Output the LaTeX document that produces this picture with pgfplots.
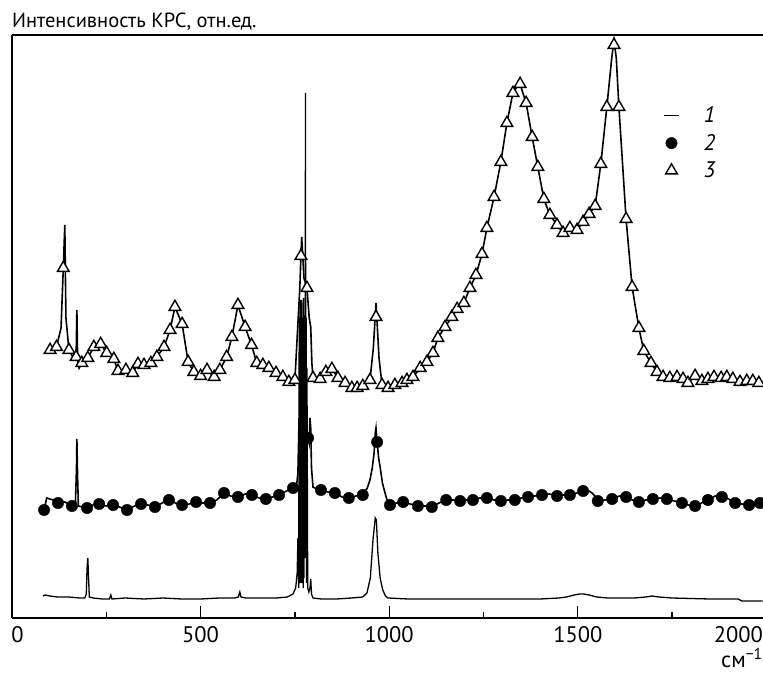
\documentclass[border=0pt]{standalone}
\usepackage{fontspec}
\setmainfont{PT Sans}
\usepackage{pgfplots}
\pgfplotsset{compat=1.18}
\newcommand{\lblfont}{\fontsize{22.5}{26}\selectfont}
\newcommand{\ttlfont}{\fontsize{20.5}{25}\selectfont}
\begin{document}
\begin{tikzpicture}
\begin{axis}[
  at={(0,0)}, anchor=south west,
  scale only axis, width=751pt, height=583pt,
  xmin=0, xmax=1991, ymin=0, ymax=583,
  axis x line*=box, axis y line*=left,
  axis line style={line width=1.3pt, -},
  xtick={0,500,1000,1500}, xticklabels={\mbox{\hspace*{11pt}0},\mbox{500},\mbox{1000},\mbox{1500}},
  minor xtick={250,750,1250,1750},
  xtick pos=left, ytick=\empty,
  tick align=inside,
  major tick length=12pt, minor tick length=6pt,
  every tick/.style={black, line width=1.3pt},
  xticklabel style={font=\lblfont, anchor=base, inner sep=0pt, yshift=-24pt},
  clip=false,
  legend cell align=left,
  legend style={draw=none, fill=none, at={(0.863,0.884)}, anchor=north west,
    font=\lblfont\itshape, row sep=6pt,
    /tikz/every odd column/.append style={column sep=22pt}},
]
% curve 1
\addplot[black, line width=1.3pt, no marks,
  legend image code/.code={\draw[black, line width=1.3pt] (1pt,0pt) -- (16pt,0pt);}] table {
82 22
88 23
100 22
120 21
150 21
180 20
193 20
197 24
199 50
201 60
203 40
205 21
215 20
240 19
258 19
262 23
265 19
300 20
350 19
400 20
450 19
500 19
550 20
590 20
600 21
604 26
607 21
620 20
660 20
700 20
730 21
745 24
752 30
756 45
758 80
760 30
761 200
762 40
763 300
764 35
765 280
766 40
767 310
768 35
769 300
770 40
771 290
772 30
773 320
774 40
776 300
777 60
778 525
779 60
780 300
781 35
782 250
784 30
787 26
790 30
792 39
794 24
798 20
820 19
860 19
900 20
930 21
941 25
950 40
957 78
963 100
966 98
970 65
976 40
983 28
990 22
997 20
1050 19
1100 19
1200 19
1300 19
1400 19
1450 20
1470 21
1490 23
1505 24
1515 24
1530 23
1550 21
1580 20
1650 20
1680 21
1697 22
1715 21
1750 20
1850 19
1925 19
1935 17
1990 17
};
\addlegendentry{1}
% curve 2 line
\addplot[black, line width=1.6pt, no marks, forget plot] table {
85 108
92 120
109 118
122 115
140 116
159 112
168 113
171 150
172 179
174 140
176 112
199 110
215 113
231 114
250 112
268 113
285 111
305 108
325 112
342 114
360 113
379 111
398 115
416 118
433 115
451 113
470 114
488 116
505 115
525 115
543 118
562 125
580 122
599 121
618 124
636 123
655 120
673 119
690 121
708 123
728 127
745 130
754 131
758 145
761 200
762 300
763 180
764 318
765 200
766 305
767 220
768 318
769 190
770 300
771 170
772 290
774 250
777 200
780 185
785 180
788 175
790 200
792 190
794 150
798 131
808 129
819 128
838 126
856 125
875 121
893 120
912 122
930 123
942 130
949 138
955 150
960 165
963 185
965 190
968 176
972 160
976 151
982 135
989 125
995 117
1002 113
1020 115
1037 116
1056 114
1076 112
1095 112
1113 111
1132 115
1151 118
1170 118
1188 117
1205 118
1222 118
1240 120
1259 120
1278 118
1296 117
1315 118
1333 118
1350 120
1368 121
1386 122
1405 123
1425 124
1445 122
1462 123
1479 123
1497 125
1514 127
1525 128
1538 125
1545 122
1553 117
1572 118
1591 119
1610 122
1628 121
1645 118
1662 116
1680 118
1699 119
1718 120
1736 119
1756 117
1776 115
1793 113
1811 112
1828 115
1845 118
1864 122
1882 121
1900 119
1917 115
1935 114
1954 113
1970 114
1983 115
};
% curve 2 marks
\addplot[only marks, mark=*, mark size=5.7pt, black] table {
85 108
122 115
159 112
199 110
231 114
268 113
305 108
342 114
379 111
416 118
451 113
488 116
525 115
562 125
599 121
636 123
673 119
708 123
745 130
785 180
819 128
856 125
893 120
930 123
968 176
1002 113
1037 116
1076 112
1113 111
1151 118
1188 117
1222 118
1259 120
1296 117
1333 118
1368 121
1405 123
1445 122
1479 123
1514 127
1553 117
1591 119
1628 121
1662 116
1699 119
1736 119
1776 115
1811 112
1845 118
1882 121
1917 115
1954 113
1983 115
};
\addlegendentry{2}
% curve 3 line
\addplot[black, line width=1.6pt, no marks, forget plot] table {
101 268
118 271
130 290
136 350
140 393
143 300
151 268
160 262
170 261
172 308
174 258
178 250
185 255
201 260
217 271
235 274
251 265
270 259
281 247
302 248
320 245
334 254
350 253
368 255
384 261
403 271
419 288
432 311
451 294
467 256
482 246
500 242
517 248
536 241
551 248
569 261
583 281
599 313
618 291
635 273
649 255
665 253
681 250
700 245
718 241
734 236
750 238
763 330
766 362
768 381
774 340
782 330
788 300
792 291
795 255
798 240
817 239
832 246
848 249
864 240
883 235
901 230
915 230
930 232
949 238
958 270
965 315
968 295
973 260
981 233
997 230
1015 233
1034 235
1047 238
1063 241
1082 250
1100 256
1116 265
1129 280
1148 291
1166 301
1180 309
1198 315
1214 330
1230 343
1246 364
1259 390
1278 421
1296 456
1312 495
1328 525
1340 532
1347 534
1352 528
1363 515
1379 481
1394 451
1410 419
1426 403
1445 393
1461 385
1479 390
1498 388
1514 396
1530 404
1546 412
1561 454
1577 511
1590 560
1596 578
1602 560
1609 511
1628 399
1644 331
1662 290
1675 267
1694 255
1710 246
1726 241
1744 240
1763 241
1779 239
1792 235
1811 242
1829 237
1845 239
1861 241
1880 240
1895 241
1911 239
1930 236
1948 237
1964 237
1980 235
};
% curve 3 marks
\addplot[only marks, mark=triangle*, mark size=6.7pt,
  mark options={fill=white, draw=black, line width=1.4pt}] table {
101 268
118 271
136 350
151 268
170 261
185 255
201 260
217 271
235 274
251 265
270 259
281 247
302 248
320 245
334 254
350 253
368 255
384 261
403 271
419 288
432 311
451 294
467 256
482 246
500 242
517 248
536 241
551 248
569 261
583 281
599 313
618 291
635 273
649 255
665 253
681 250
700 245
718 241
734 236
750 238
766 362
782 330
798 240
817 239
832 246
848 249
864 240
883 235
901 230
915 230
930 232
949 238
965 301
981 233
997 230
1015 233
1034 235
1047 238
1063 241
1082 250
1100 256
1116 265
1129 280
1148 291
1166 301
1180 309
1198 315
1214 330
1230 343
1246 364
1259 390
1278 421
1296 456
1312 495
1328 525
1347 534
1363 515
1379 481
1394 451
1410 419
1426 403
1445 393
1461 385
1479 390
1498 388
1514 396
1530 404
1546 412
1561 454
1577 511
1596 573
1609 511
1628 399
1644 331
1662 290
1675 267
1694 255
1710 246
1726 241
1744 240
1763 241
1779 239
1792 235
1811 242
1829 237
1845 239
1861 241
1880 240
1895 241
1911 239
1930 236
1948 237
1964 237
1980 235
};
\addlegendentry{3}
\node[anchor=base west, inner sep=0pt, font=\ttlfont, yshift=7pt] at (rel axis cs:0,1) {Интенсивность КРС, отн.ед.};
\node[anchor=base east, inner sep=0pt, font=\lblfont, yshift=-24pt] at (rel axis cs:1,0) {2000};
\node[anchor=base east, inner sep=0pt, font=\lblfont, yshift=-49pt] at (rel axis cs:1,0) {см\textsuperscript{−1}};
\end{axis}
\pgfresetboundingbox
\path[use as bounding box] (-12pt,-54pt) rectangle (751pt,618pt);
\end{tikzpicture}
\end{document}
